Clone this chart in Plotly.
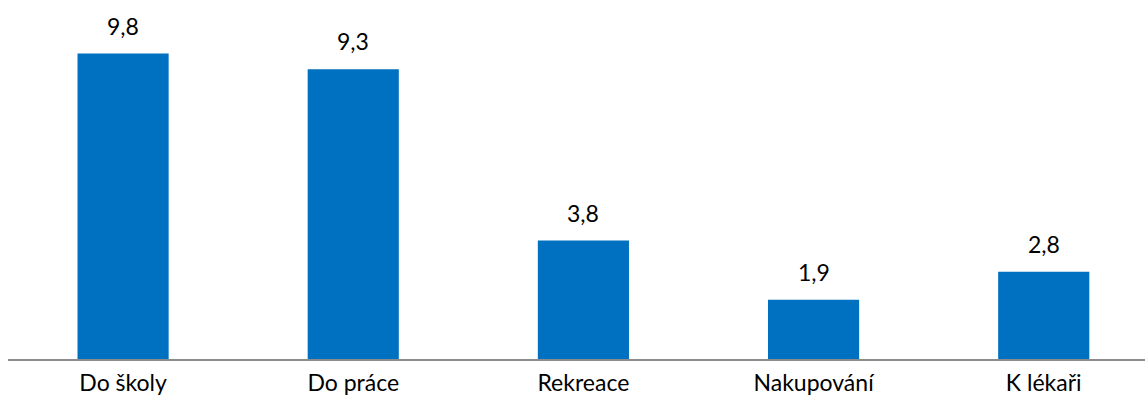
import plotly.graph_objects as go

categories = ["Do školy", "Do práce", "Rekreace", "Nakupování", "K lékaři"]
values = [9.8, 9.3, 3.8, 1.9, 2.8]
value_labels = [f"{v:.1f}".replace(".", ",") for v in values]

BAR_COLOR = "#0070C0"
FONT = "Lato"
FSIZE = 23

fig = go.Figure()
fig.add_trace(go.Bar(
    x=categories,
    y=values,
    marker=dict(color=BAR_COLOR, line=dict(width=0)),
    hoverinfo="skip",
))

for c, v, t in zip(categories, values, value_labels):
    fig.add_annotation(
        x=c, y=v, text=t, showarrow=False,
        yanchor="bottom", yshift=12,
        font=dict(family=FONT, size=FSIZE, color="#000000"),
    )

fig.update_layout(
    width=1145, height=408,
    margin=dict(l=8, r=0, t=10, b=49),
    paper_bgcolor="white", plot_bgcolor="white",
    bargap=0.604,
    showlegend=False,
    separators=", ",
    font=dict(family=FONT, size=FSIZE, color="#000000"),
)
fig.update_xaxes(
    range=[-0.5, 4.44],
    showline=True, linecolor="#8C8C8C", linewidth=1.5,
    showgrid=False, ticks="", ticklabelstandoff=3,
    tickfont=dict(family=FONT, size=FSIZE, color="#000000"),
)
fig.update_yaxes(
    range=[0, 11.2], visible=False, showgrid=False, zeroline=False,
)

fig.write_html("out.html")
